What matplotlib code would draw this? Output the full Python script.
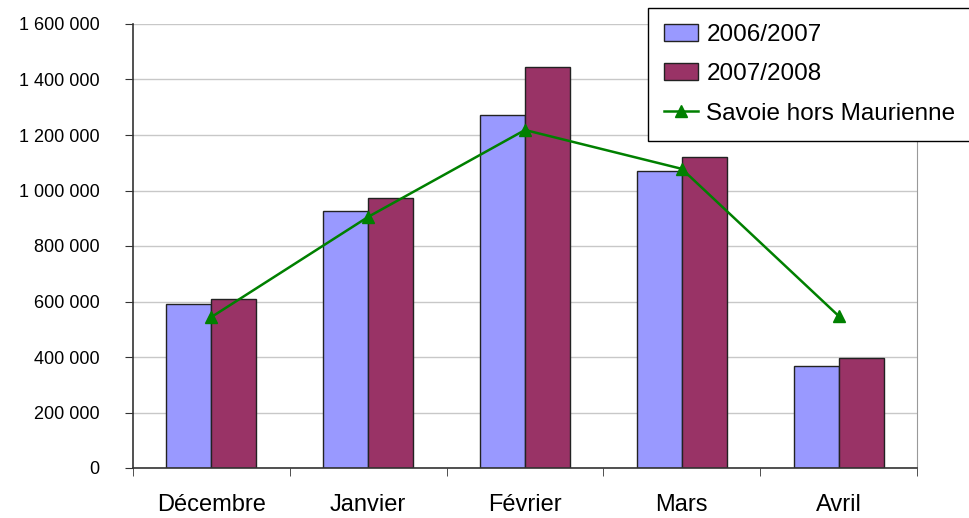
import numpy as np
import matplotlib.pyplot as plt
from matplotlib.ticker import FuncFormatter

months = ['Décembre', 'Janvier', 'Février', 'Mars', 'Avril']
saison_2006 = [591000, 926000, 1272000, 1070000, 368000]
saison_2007 = [609000, 973000, 1445000, 1121000, 396000]
savoie = [544000, 905000, 1218000, 1078000, 548000]

plt.rcParams['font.family'] = ['Liberation Sans', 'DejaVu Sans']

fig = plt.figure(figsize=(9.69, 5.18), dpi=100)
ax = fig.add_axes([133 / 969, 1 - 468 / 518, 784 / 969, 444 / 518])

x = np.arange(len(months))
w = 0.287
b1 = ax.bar(x - w / 2, saison_2006, w, color='#9999ff', edgecolor='#222222', linewidth=1, label='2006/2007', zorder=2)
b2 = ax.bar(x + w / 2, saison_2007, w, color='#993366', edgecolor='#222222', linewidth=1, label='2007/2008', zorder=2)
ln, = ax.plot(x, savoie, color='#008000', linewidth=1.8, marker='^', markersize=9, label='Savoie hors Maurienne', zorder=3)

ax.set_xlim(-0.5, 4.5)
ax.set_ylim(0, 1600000)
ax.set_yticks(np.arange(0, 1600001, 200000))
ax.yaxis.set_major_formatter(FuncFormatter(lambda v, p: f'{int(v):,}'.replace(',', ' ')))
ax.grid(axis='y', color='#c8c8c8', linewidth=1, zorder=0)

ax.set_xticks(x)
ax.set_xticklabels(months, fontsize=17)
ax.set_xticks(np.arange(-0.5, 5, 1), minor=True)
ax.tick_params(axis='x', which='major', length=0, pad=19)
ax.tick_params(axis='x', which='minor', length=6, direction='out', color='#333333')
ax.tick_params(axis='y', labelsize=13, length=6, direction='out', color='#333333', pad=18)

ax.spines['top'].set_visible(False)
ax.spines['right'].set_color('#999999')
ax.spines['left'].set_color('#333333')
ax.spines['bottom'].set_color('#333333')
ax.spines['left'].set_linewidth(1.2)
ax.spines['bottom'].set_linewidth(1.2)

leg = fig.legend([b1, b2, ln], ['2006/2007', '2007/2008', 'Savoie hors Maurienne'],
                 loc='upper left', bbox_to_anchor=(648 / 969, 1 - 8 / 518), fontsize=17.5,
                 frameon=True, fancybox=False, edgecolor='black', framealpha=1,
                 handlelength=1.4, handleheight=0.7, labelspacing=0.72, borderpad=0.65,
                 handletextpad=0.35, borderaxespad=0)
leg.get_frame().set_linewidth(1)

fig.savefig('out.png', dpi=100)
